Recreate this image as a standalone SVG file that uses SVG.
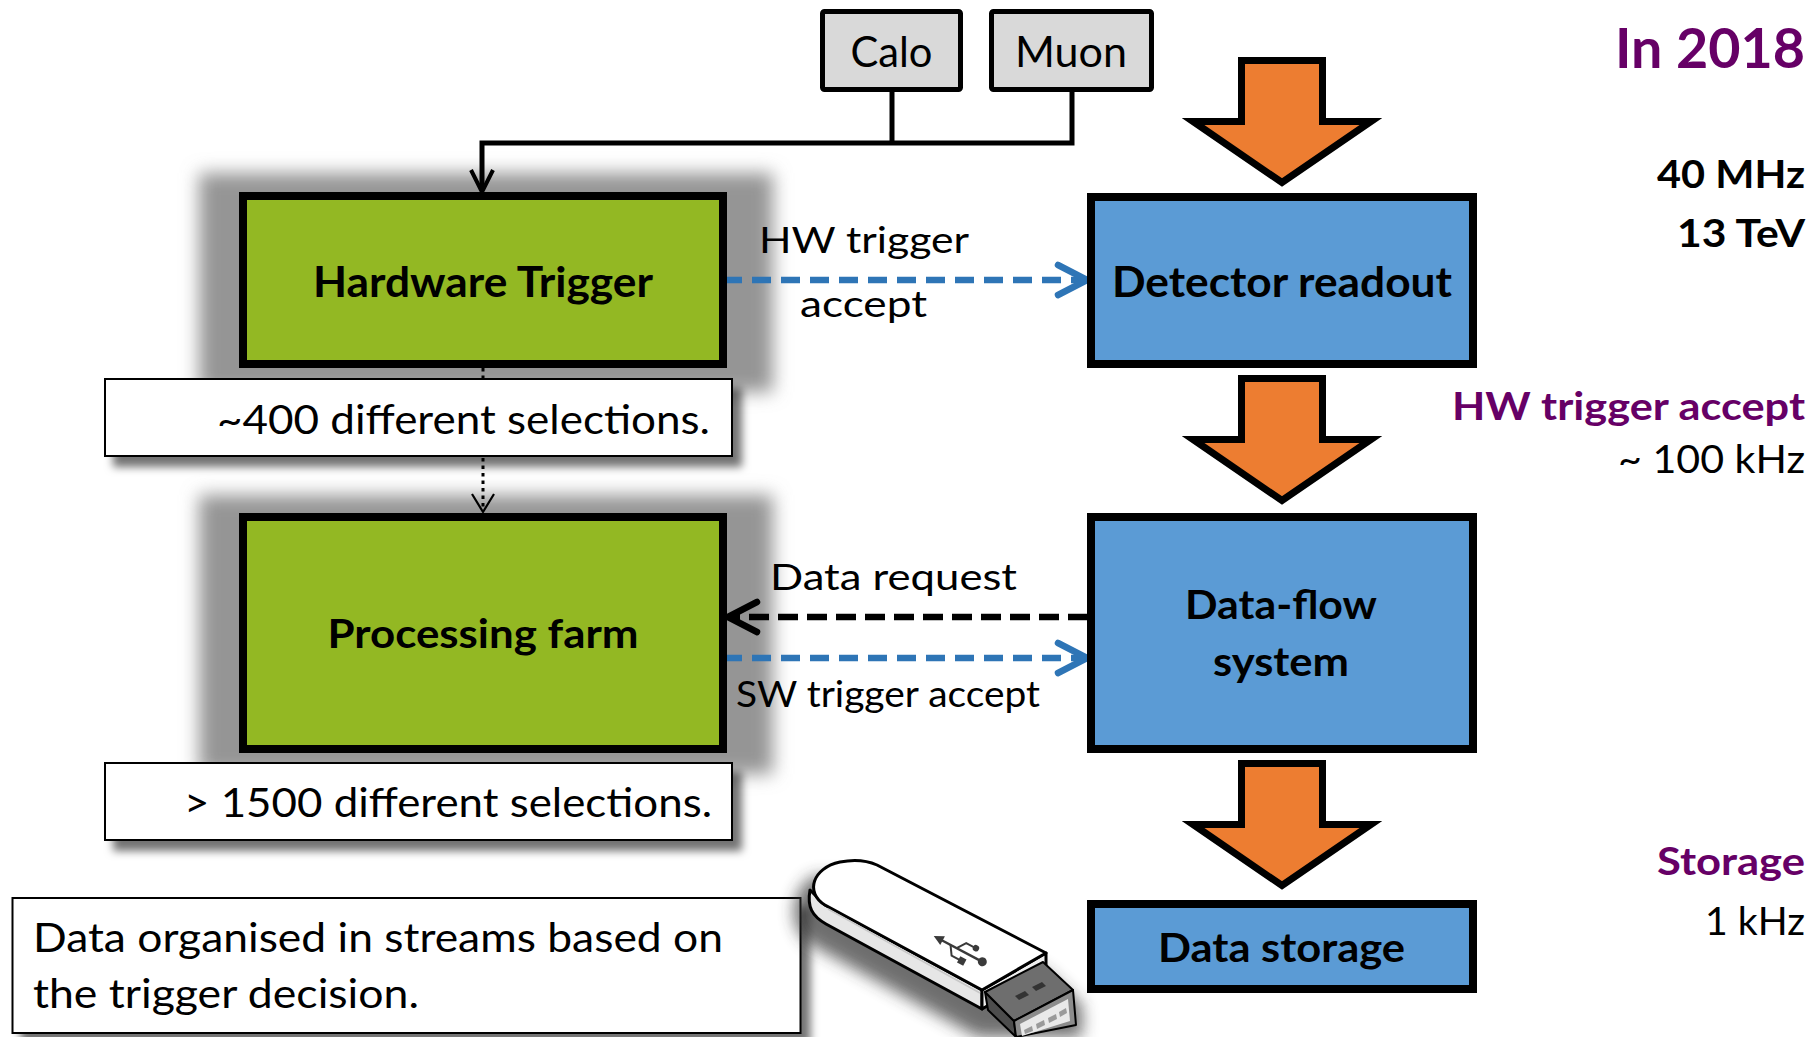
<svg xmlns="http://www.w3.org/2000/svg" xmlns:xlink="http://www.w3.org/1999/xlink" width="1818" height="1037" viewBox="0 0 1818 1037">
  <defs>
    <style>
      .t { font-family: Lato, "Liberation Sans", sans-serif; fill: #000; }
      .b { font-weight: 700; }
      .purple { fill: #660066; }
      .green { fill: #93B823; stroke: #000; stroke-width: 8; }
      .blue { fill: #5B9BD5; stroke: #000; stroke-width: 8; }
      .gray { fill: #D9D9D9; stroke: #000; stroke-width: 5; }
      .note { fill: #fff; stroke: #000; stroke-width: 2; filter: url(#drop); }
      .wire { fill: none; stroke: #000; stroke-width: 5; stroke-linejoin: miter; }
      .dashBlue { fill: none; stroke: #2E75B6; stroke-width: 6.5; stroke-dasharray: 19 10; }
      .dashBlack { fill: none; stroke: #000; stroke-width: 6.5; stroke-dasharray: 20 9; }
      .headBlue { fill: none; stroke: #2E75B6; stroke-width: 6.5; stroke-linecap: round; stroke-linejoin: round; }
      .headBlack { fill: none; stroke: #000; stroke-width: 6.5; stroke-linecap: round; stroke-linejoin: round; }
      .bigArrow { fill: #ED7D31; stroke: #000; stroke-width: 7; stroke-linejoin: miter; }
    </style>
    <filter id="blur" x="-20%" y="-40%" width="140%" height="180%">
      <feGaussianBlur stdDeviation="9"/>
    </filter>
    <filter id="soft" x="-30%" y="-50%" width="160%" height="200%">
      <feGaussianBlur stdDeviation="8"/>
    </filter>
    <filter id="drop" x="-5%" y="-10%" width="115%" height="140%">
      <feDropShadow dx="9" dy="10" stdDeviation="4" flood-color="#000" flood-opacity="0.55"/>
    </filter>
    <!-- wide down arrow used between the blue stages -->
    <path id="downArrow" class="bigArrow" d="M1241.5,60.5 H1322.5 V121.5 H1371 L1282,182.5 L1193,121.5 H1241.5 Z"/>
  </defs>

  <rect width="1818" height="1037" fill="#fff"/>

  <!-- soft halos behind the green stages -->
  <g id="halos" fill="#959595" filter="url(#blur)">
    <rect x="199" y="173" width="574" height="219"/>
    <rect x="199" y="495" width="574" height="279"/>
  </g>

  <!-- connectors -->
  <g id="connectors">
    <path class="wire" d="M892,92 V143"/>
    <path class="wire" d="M1072,92 V143 H482 V190"/>
    <path d="M471,170 L482,192 L493,170" fill="none" stroke="#000" stroke-width="4" stroke-linejoin="miter"/>

    <path d="M483,368 V510" fill="none" stroke="#000" stroke-width="3" stroke-dasharray="3.5 4"/>
    <path d="M472,494 L483,512 L494,494" fill="none" stroke="#000" stroke-width="2.2"/>

    <path class="dashBlue" d="M723,280 H1084"/>
    <path class="headBlue" d="M1058,265 L1087,280 L1058,295"/>

    <path class="dashBlack" d="M1088,617 H731"/>
    <path class="headBlack" d="M757,602 L728,617 L757,632"/>

    <path class="dashBlue" d="M723,658 H1084"/>
    <path class="headBlue" d="M1058,643 L1087,658 L1058,673"/>

    <use xlink:href="#downArrow"/>
    <use xlink:href="#downArrow" y="318"/>
    <use xlink:href="#downArrow" y="703"/>
  </g>

  <!-- sub-detector sources -->
  <g id="calo">
    <rect class="gray" x="822.5" y="11.5" width="138" height="78" rx="2"/>
    <text class="t" x="891.5" y="67" font-size="43" text-anchor="middle" textLength="82" lengthAdjust="spacingAndGlyphs">Calo</text>
  </g>
  <g id="muon">
    <rect class="gray" x="991.5" y="11.5" width="160" height="78" rx="2"/>
    <text class="t" x="1071" y="67" font-size="43" text-anchor="middle" textLength="112" lengthAdjust="spacingAndGlyphs">Muon</text>
  </g>

  <!-- trigger stages -->
  <g id="hardware-trigger">
    <rect class="green" x="243" y="196" width="480" height="168"/>
    <text class="t b" x="483" y="297" font-size="42" text-anchor="middle" textLength="340" lengthAdjust="spacingAndGlyphs">Hardware Trigger</text>
  </g>
  <g id="hw-selections">
    <rect class="note" x="105" y="379" width="627" height="77"/>
    <text class="t" x="217" y="434" font-size="41" textLength="493" lengthAdjust="spacingAndGlyphs">~400 different selections.</text>
  </g>
  <g id="processing-farm">
    <rect class="green" x="243" y="517" width="480" height="232"/>
    <text class="t b" x="483" y="648" font-size="41" text-anchor="middle" textLength="311" lengthAdjust="spacingAndGlyphs">Processing farm</text>
  </g>
  <g id="sw-selections">
    <rect class="note" x="105" y="763" width="627" height="77"/>
    <text class="t" x="184" y="817" font-size="41" textLength="528" lengthAdjust="spacingAndGlyphs">&gt; 1500 different selections.</text>
  </g>
  <g id="streams-note">
    <rect class="note" x="12.5" y="898" width="788" height="135"/>
    <text class="t" x="33" y="952" font-size="40" textLength="690" lengthAdjust="spacingAndGlyphs">Data organised in streams based on</text>
    <text class="t" x="33" y="1008" font-size="40" textLength="386" lengthAdjust="spacingAndGlyphs">the trigger decision.</text>
  </g>

  <!-- readout chain -->
  <g id="detector-readout">
    <rect class="blue" x="1091" y="197" width="382" height="167"/>
    <text class="t b" x="1282" y="297" font-size="42" text-anchor="middle" textLength="340" lengthAdjust="spacingAndGlyphs">Detector readout</text>
  </g>
  <g id="data-flow">
    <rect class="blue" x="1091" y="517" width="382" height="232"/>
    <text class="t b" x="1281" y="619" font-size="41" text-anchor="middle" textLength="192" lengthAdjust="spacingAndGlyphs">Data-flow</text>
    <text class="t b" x="1281" y="676" font-size="41" text-anchor="middle" textLength="136" lengthAdjust="spacingAndGlyphs">system</text>
  </g>
  <g id="data-storage">
    <rect class="blue" x="1091" y="904" width="382" height="85"/>
    <text class="t b" x="1281.5" y="962" font-size="41" text-anchor="middle" textLength="247" lengthAdjust="spacingAndGlyphs">Data storage</text>
  </g>

  <!-- connector labels -->
  <g id="link-labels">
    <text class="t" x="759" y="253" font-size="37" textLength="210" lengthAdjust="spacingAndGlyphs">HW trigger</text>
    <text class="t" x="800" y="317" font-size="37" textLength="127" lengthAdjust="spacingAndGlyphs">accept</text>
    <text class="t" x="770" y="590" font-size="37" textLength="247" lengthAdjust="spacingAndGlyphs">Data request</text>
    <text class="t" x="736" y="707" font-size="37" textLength="304" lengthAdjust="spacingAndGlyphs">SW trigger accept</text>
  </g>

  <!-- rates column -->
  <g id="rates" text-anchor="end">
    <text class="t b purple" x="1805" y="68" font-size="56" textLength="190" lengthAdjust="spacingAndGlyphs">In 2018</text>
    <text class="t b" x="1805" y="188" font-size="39" textLength="148" lengthAdjust="spacingAndGlyphs">40 MHz</text>
    <text class="t b" x="1805" y="247" font-size="39" textLength="128" lengthAdjust="spacingAndGlyphs">13 TeV</text>
    <text class="t b purple" x="1805" y="420" font-size="39" textLength="353" lengthAdjust="spacingAndGlyphs">HW trigger accept</text>
    <text class="t" x="1805" y="473" font-size="38" textLength="187" lengthAdjust="spacingAndGlyphs">~ 100 kHz</text>
    <text class="t b purple" x="1805" y="875" font-size="39" textLength="148" lengthAdjust="spacingAndGlyphs">Storage</text>
    <text class="t" x="1805" y="935" font-size="38" textLength="100" lengthAdjust="spacingAndGlyphs">1 kHz</text>
  </g>

  <!-- USB stick illustration -->
  <g id="usb-stick">
    <path d="M862,878 L1046,972 L1082,1005 L1082,1037 L978,1037 L810,944 C788,928 788,892 814,876 Z" fill="#333" opacity="0.7" filter="url(#soft)"/>
    <!-- side of the body -->
    <path d="M810,890 C807,907 812,916 826,924 L982,1009 L982,990 L825,905 Z" fill="#e6e6e6" stroke="#000" stroke-width="3" stroke-linejoin="round"/>
    <!-- end of the body -->
    <path d="M982,990 L1046,953 L1046,972 L982,1009 Z" fill="#f0f0f0" stroke="#000" stroke-width="3" stroke-linejoin="round"/>
    <!-- top of the body -->
    <path d="M877,865 L1046,953 L982,990 L825,905 C805,893 812,868 840,862 C855,859 868,861 877,865 Z" fill="#fff" stroke="#000" stroke-width="3" stroke-linejoin="round"/>
    <path d="M828,909 L980,993" fill="none" stroke="#c8c8c8" stroke-width="1.5"/>
    <!-- USB logo -->
    <g transform="translate(962,951) rotate(28)" fill="#3a3a3a" stroke="#3a3a3a">
      <path d="M-24,0 H20" stroke-width="2.5" fill="none"/>
      <path d="M-32,0 L-22,-5 L-22,5 Z" stroke="none"/>
      <circle cx="23" cy="0" r="4.5" stroke="none"/>
      <path d="M-6,0 L0,-9 H9" stroke-width="2" fill="none"/>
      <circle cx="11" cy="-9" r="3.2" stroke="none"/>
      <path d="M-13,0 L-7,9 H2" stroke-width="2" fill="none"/>
      <rect x="1" y="5.5" width="7" height="7" stroke="none"/>
    </g>
    <!-- metal plug -->
    <path d="M985,992 L1014,1021 L1016,1037 L988,1010 Z" fill="#4d4d4d" stroke="#000" stroke-width="2" stroke-linejoin="round"/>
    <path d="M985,992 L1043,962 L1073,990 L1014,1021 Z" fill="#6e6e6e" stroke="#000" stroke-width="2" stroke-linejoin="round"/>
    <path d="M1014,1021 L1073,990 L1076,1025 L1016,1037 Z" fill="#8c8c8c" stroke="#000" stroke-width="2" stroke-linejoin="round"/>
    <path d="M1020,1024 L1068,999 L1070,1021 L1022,1036 Z" fill="#e9e9e9"/>
    <g fill="#9a9a9a">
      <path d="M1024,1030 L1032,1026 L1033,1031 L1025,1034 Z"/>
      <path d="M1036,1024 L1044,1020 L1045,1025 L1037,1029 Z"/>
      <path d="M1048,1018 L1056,1014 L1057,1019 L1049,1023 Z"/>
      <path d="M1059,1012 L1066,1008 L1067,1013 L1060,1017 Z"/>
    </g>
    <g fill="#333">
      <path d="M1015,996 L1025,991 L1029,995 L1019,1000 Z"/>
      <path d="M1032,987 L1042,982 L1046,986 L1036,991 Z"/>
    </g>
  </g>
</svg>
